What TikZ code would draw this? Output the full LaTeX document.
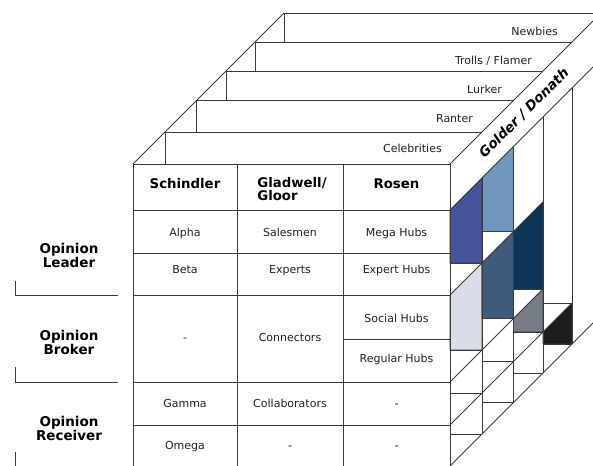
\documentclass[tikz,border=0pt]{standalone}
\usepackage{fontspec}
\setmainfont{DejaVu Sans}
\definecolor{ln}{HTML}{3A3A3A}
\definecolor{txt}{HTML}{222222}
\definecolor{cA}{HTML}{46529A}
\definecolor{cB}{HTML}{D8DDE8}
\definecolor{cC}{HTML}{7096BD}
\definecolor{cD}{HTML}{3F5A7B}
\definecolor{cE}{HTML}{0D3558}
\definecolor{cF}{HTML}{767D86}
\definecolor{cG}{HTML}{1B1D1F}
\begin{document}
\begin{tikzpicture}[x=1pt,y=-1pt,
  gridline/.style={draw=ln,line width=0.9pt},
  celltext/.style={inner sep=0pt,anchor=base,text=txt,font=\fontsize{11}{13}\selectfont},
  headtext/.style={inner sep=0pt,anchor=base,text=black,font=\bfseries\fontsize{13.3}{13}\selectfont},
  sidetext/.style={inner sep=0pt,align=center,text=black,font=\bfseries\fontsize{13.5}{13}\selectfont},
  slabtext/.style={celltext,anchor=base east},
  cellfill/.style={draw=ln,line width=0.6pt}]
\useasboundingbox (0,0) rectangle (593,465);
\clip (0,0) rectangle (593,465);

% ---- coloured side cells
\fill[cA,cellfill] (450,210) -- (482,178) -- (482,263) -- (450,263) -- cycle;
\fill[cB,cellfill] (450,295) -- (482,263) -- (482,350) -- (450,350) -- cycle;
\fill[cC,cellfill] (482,178) -- (513.5,146.5) -- (513.5,231.5) -- (482,231.5) -- cycle;
\fill[cD,cellfill] (482,263) -- (513.5,231.5) -- (513.5,318.5) -- (482,318.5) -- cycle;
\fill[cE,cellfill] (513.5,231.5) -- (543,202) -- (543,289) -- (513.5,289) -- cycle;
\fill[cF,cellfill] (513.5,318.5) -- (543,289) -- (543,332) -- (513.5,332) -- cycle;
\fill[cG,cellfill] (543,332) -- (572,303) -- (572,344) -- (543,344) -- cycle;

% ---- stacked slabs on top
\draw[gridline] (133,164) -- (284,13);
\foreach \d/\dp in {32/0,63.5/32,93/63.5,122/93,151/122}{
  \draw[gridline] (133+\d,164-\d) -- (450+\d,164-\d);
  \draw[gridline] (133+\d,164-\d) -- (133+\d,164-\dp);
}

% ---- right face: band diagonals and verticals
\draw[gridline] (450,164) -- (482,132) -- (513.5,100.5) -- (543,71) -- (572,42) -- (601,13) -- (630,-16);
\draw[gridline] (450,210) -- (482,178) -- (513.5,146.5) -- (543,117) -- (572,88) -- (601,59) -- (640,20);
\draw[gridline] (450,466) -- (482,434) -- (513.5,402.5) -- (543,373) -- (572,344) -- (601,315) -- (650,266);
\foreach \x/\d in {482/32,513.5/63.5,543/93,572/122}{
  \draw[gridline] (\x,210-\d) -- (\x,466-\d);
}
% row diagonals on the right face
\draw[gridline] (450,295) -- (482,263) -- (513.5,231.5) -- (543,202);
\draw[gridline] (450,382) -- (482,350) -- (513.5,318.5) -- (543,289);
\draw[gridline] (450,425) -- (482,393) -- (513.5,361.5) -- (543,332) -- (572,303);
% row horizontals on the right face
\foreach \y in {263,350,393,434}{\draw[gridline] (450,\y) -- (482,\y);}
\foreach \y in {231.5,318.5,361.5,402.5}{\draw[gridline] (482,\y) -- (513.5,\y);}
\foreach \y in {289,332,373}{\draw[gridline] (513.5,\y) -- (543,\y);}
\foreach \y in {303,344}{\draw[gridline] (543,\y) -- (572,\y);}

% ---- front table
\draw[gridline] (133,164) rectangle (450,470);
\draw[gridline] (237,164) -- (237,470);
\draw[gridline] (343,164) -- (343,470);
\foreach \y in {210,253,295,382,425}{\draw[gridline] (133,\y) -- (450,\y);}
\draw[gridline] (343,339) -- (450,339);

% ---- left group separators
\draw[gridline] (15,281) -- (15,295) -- (118,295);
\draw[gridline] (15,367) -- (15,382) -- (118,382);
\draw[gridline] (15,452) -- (15,470);

% ---- slab labels
\node[slabtext] (sCel) at (442,153) {Celebrities};
\node[slabtext] (sRan) at (473,123) {Ranter};
\node[slabtext] (sLur) at (502,94) {Lurker};
\node[slabtext] (sTro) at (532,65) {Trolls / Flamer};
\node[slabtext] (sNew) at (558,36) {Newbies};
\node[inner sep=0pt,rotate=45,text=black,font=\bfseries\itshape\fontsize{13.5}{13}\selectfont] (gd) at (524,113) {Golder / Donath};

% ---- header
\node[headtext] (h1) at (185,188) {Schindler};
\node[headtext,anchor=center,align=left] (h2) at (292,189.5) {Gladwell/\\Gloor};
\node[headtext] (h3) at (396.5,188) {Rosen};

% ---- cells
\node[celltext] (a1) at (185,236) {Alpha};
\node[celltext] (a2) at (290,236) {Salesmen};
\node[celltext] (a3) at (396.5,236) {Mega Hubs};
\node[celltext] (b1) at (185,273) {Beta};
\node[celltext] (b2) at (290,273) {Experts};
\node[celltext] (b3) at (396.5,273) {Expert Hubs};
\node[celltext] (c1) at (185,341) {-};
\node[celltext] (c2) at (290,341) {Connectors};
\node[celltext] (c3) at (396.5,322) {Social Hubs};
\node[celltext] (c4) at (396.5,362) {Regular Hubs};
\node[celltext] (g1) at (185,407) {Gamma};
\node[celltext] (g2) at (290,407) {Collaborators};
\node[celltext] (g3) at (396.5,407) {-};
\node[celltext] (o1) at (185,449) {Omega};
\node[celltext] (o2) at (290,449) {-};
\node[celltext] (o3) at (396.5,449) {-};

% ---- side labels
\node[sidetext] (lLead) at (69,255) {Opinion\\Leader};
\node[sidetext] (lBrok) at (69,342) {Opinion\\Broker};
\node[sidetext] (lRec) at (69,428.5) {Opinion\\Receiver};
\end{tikzpicture}
\end{document}
